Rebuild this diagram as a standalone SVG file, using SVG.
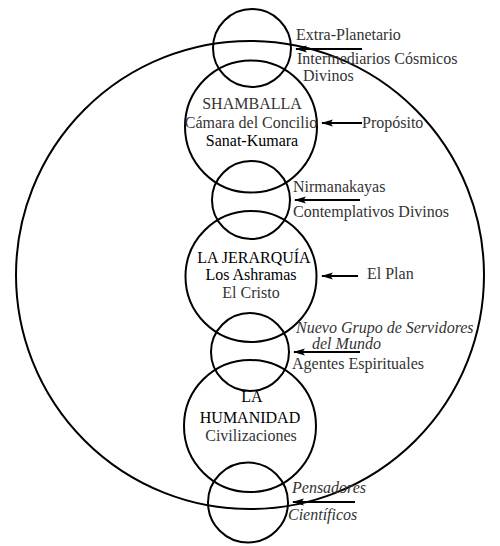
<svg xmlns="http://www.w3.org/2000/svg" width="500" height="546" viewBox="0 0 500 546">
<style>
.ring{fill:none;stroke:#000;stroke-width:2}
.t{font-family:"Liberation Serif","Times New Roman",serif;font-size:16px;fill:#333}
.k{fill:#000}
.c{text-anchor:middle}
.i{font-style:italic}
.arr{stroke:#000;stroke-width:1.8;fill:none;marker-end:url(#ah)}
</style>
<defs>
<marker id="ah" viewBox="0 0 12 8" refX="11" refY="4" markerWidth="12" markerHeight="8" markerUnits="userSpaceOnUse" orient="auto">
<path d="M0,0.5 L12,4 L0,7.5 L2.5,4 z" fill="#000"/>
</marker>
</defs>
<rect width="500" height="546" fill="#fff"/>
<g id="planeta"><circle class="ring" cx="250" cy="275" r="234"/></g>
<g id="extra-planetario"><circle class="ring" cx="252" cy="48" r="39"/></g>
<g id="shamballa">
<circle class="ring" cx="251" cy="126.5" r="66"/>
<text class="t c" x="252" y="109">SHAMBALLA</text>
<text class="t c" x="251" y="128">Cámara del Concilio</text>
<text class="t c k" x="252" y="146">Sanat-Kumara</text>
</g>
<g id="nirmanakayas"><circle class="ring" cx="251" cy="200" r="39"/></g>
<g id="jerarquia">
<circle class="ring" cx="251" cy="276.5" r="65.5"/>
<text class="t c k" x="254" y="263">LA JERARQUÍA</text>
<text class="t c k" x="251" y="280">Los Ashramas</text>
<text class="t c" x="251" y="298">El Cristo</text>
</g>
<g id="nuevo-grupo"><circle class="ring" cx="250" cy="352" r="39"/></g>
<g id="humanidad">
<circle class="ring" cx="250" cy="426" r="66"/>
<text class="t c k" x="252" y="402">LA</text>
<text class="t c k" x="250" y="423">HUMANIDAD</text>
<text class="t c" x="251" y="441">Civilizaciones</text>
</g>
<g id="pensadores"><circle class="ring" cx="248" cy="502.5" r="40"/></g>
<g id="labels">
<text class="t" x="296" y="40">Extra-Planetario</text>
<text class="t" x="297" y="64">Intermediarios Cósmicos</text>
<text class="t" x="303" y="81">Divinos</text>
<text class="t" x="362" y="128">Propósito</text>
<text class="t" x="293" y="192">Nirmanakayas</text>
<text class="t" x="293" y="217">Contemplativos Divinos</text>
<text class="t" x="367" y="279">El Plan</text>
<text class="t i" x="296" y="333">Nuevo Grupo de Servidores</text>
<text class="t i" x="312" y="349">del Mundo</text>
<text class="t" x="292" y="369">Agentes Espirituales</text>
<text class="t i" x="292" y="493">Pensadores</text>
<text class="t i" x="288" y="520">Científicos</text>
</g>
<g id="connectors">
<line class="arr" x1="362" y1="49" x2="296" y2="49"/>
<line class="arr" x1="362" y1="123" x2="322" y2="123"/>
<line class="arr" x1="360" y1="200" x2="295" y2="200"/>
<line class="arr" x1="358" y1="276" x2="322" y2="276"/>
<line class="arr" x1="360" y1="352" x2="294" y2="352"/>
<line class="arr" x1="355" y1="502" x2="293" y2="502"/>
</g>
</svg>
